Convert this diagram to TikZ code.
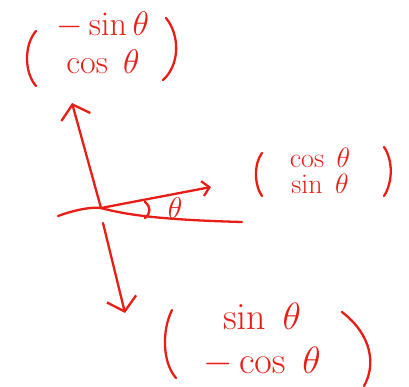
\RequirePackage{fix-cm}
\documentclass[tikz,border=0pt]{standalone}
\usetikzlibrary{arrows.meta}
\definecolor{pen}{RGB}{232,30,22}
\begin{document}
\begin{tikzpicture}[x=1pt,y=-1pt,line width=2.3pt,draw=pen,line cap=round,line join=round,
  lbl/.style={text=pen,inner sep=0pt,align=center},
  topf/.style={lbl,font=\fontsize{34}{38}\selectfont},
  botf/.style={lbl,font=\fontsize{38}{44}\selectfont},
  mid/.style={lbl,font=\fontsize{28}{28}\selectfont},
  thf/.style={lbl,font=\fontsize{30}{30}\selectfont},
  bar/.style={-{Straight Barb[length=13pt,width=30pt,line width=2.3pt]}},
  sbar/.style={-{Straight Barb[length=7pt,width=15pt,line width=2.3pt]}}]
\useasboundingbox (0,0) rectangle (409,386);
% origin and axis ends
\coordinate (O) at (101,208);
\coordinate (U) at (72,103);
\coordinate (D) at (125,313);
\coordinate (R) at (211,187);
\coordinate (Xl) at (58,216);
\coordinate (Xr) at (242,222);
% horizontal axis
\draw (Xl) .. controls (80,208) and (95,207) .. (O) .. controls (130,216) and (170,220) .. (Xr);
% arrows
\draw[bar] (O) -- (U);
\draw[bar] (103,223) -- (D);
\draw[sbar] (O) -- (R);
% angle mark and theta
\draw (145,202) .. controls (151,207) and (151,213) .. (145,218);
\node[thf] (th) at (175,208) {$\theta$};
% top vector
\node[topf] (top) at (103,43) {$-\sin\theta$\\$\cos\;\theta$};
\draw (36,31) .. controls (24,45) and (24,72) .. (36,86);
\draw (166,18) .. controls (180,35) and (180,65) .. (163,80);
% right vector
\node[mid,anchor=base] (rv1) at (320,167) {$\cos\;\theta$};
\node[mid,anchor=base] (rv2) at (320,193) {$\sin\;\theta$};
\draw (262,153) .. controls (254,163) and (254,185) .. (262,196);
\draw (384,147) .. controls (393,160) and (393,182) .. (384,196);
% bottom vector
\node[botf] (bv) at (262,340) {$\sin\;\theta$\\$-\cos\;\theta$};
\draw (172,310) .. controls (162,330) and (162,362) .. (176,378);
\draw (342,312) .. controls (372,335) and (376,365) .. (364,386);
\end{tikzpicture}
\end{document}
